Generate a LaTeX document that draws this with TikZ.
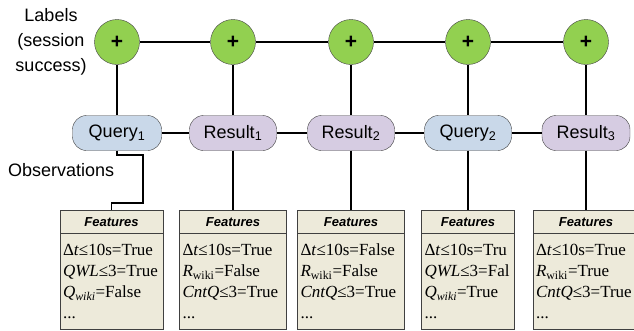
\documentclass[tikz,border=0pt]{standalone}
\usepackage{fontspec}
\setmainfont{Liberation Serif}
\setsansfont{Liberation Sans}

\definecolor{labelgreen}{HTML}{92D050}
\definecolor{queryblue}{HTML}{C9D8E9}
\definecolor{resultpurple}{HTML}{D6CCE2}
\definecolor{featurebeige}{HTML}{EDEADA}
\definecolor{edgegray}{HTML}{404040}

\tikzset{
    label node/.style = {circle, draw = edgegray, fill = labelgreen,
        minimum size = 45pt, inner sep = 0pt,
        font = \sffamily\bfseries\fontsize{21}{21}\selectfont},
    obs node/.style = {rectangle, rounded corners = 14pt, draw = edgegray,
        minimum height = 35pt, inner sep = 0pt,
        font = \sffamily\fontsize{18}{18}\selectfont},
    query node/.style = {obs node, fill = queryblue, minimum width = 89pt},
    result node/.style = {obs node, fill = resultpurple, minimum width = 87pt},
    feature head/.style = {rectangle, draw = edgegray, fill = featurebeige,
        anchor = north, minimum height = 23pt, inner sep = 0pt,
        font = \sffamily\bfseries\itshape\fontsize{13}{13}\selectfont},
    feature body/.style = {rectangle, draw = edgegray, fill = featurebeige,
        anchor = north, minimum height = 96pt, inner xsep = 3pt, inner ysep = 0pt,
        align = left, font = \rmfamily\fontsize{17}{21}\selectfont},
    link/.style = {line width = 1.3pt, black}
}

\begin{document}
\begin{tikzpicture}[x = 1pt, y = -1pt]

        \useasboundingbox (0, 0) rectangle (634, 330);

        % Side texts.
        \node[align = center, font = \sffamily\fontsize{18}{25}\selectfont]
            (labtext) at (51, 42) {Labels\\(session\\success)};
        \node[anchor = west, inner sep = 0pt, font = \sffamily\fontsize{18}{18}\selectfont]
            (obstext) at (8, 170) {Observations};

        % Labels (session success).
        \node[label node] (lab1) at (117, 42) {+};
        \node[label node] (lab2) at (233, 42) {+};
        \node[label node] (lab3) at (351, 42) {+};
        \node[label node] (lab4) at (468, 42) {+};
        \node[label node] (lab5) at (586, 42) {+};

        % Observations.
        \node[query node] (q1) at (117, 133) {Query\textsubscript{1}};
        \node[result node] (r1) at (233, 133) {Result\textsubscript{1}};
        \node[result node] (r2) at (351, 133) {Result\textsubscript{2}};
        \node[query node, minimum width = 87pt] (q2) at (468, 133) {Query\textsubscript{2}};
        \node[result node, minimum width = 88pt] (r3) at (586, 133) {Result\textsubscript{3}};

        % Feature boxes.
        \node[feature head, minimum width = 103pt] (f1h) at (111.5, 210) {Features};
        \node[feature body, minimum width = 103pt, text width = 97pt] (f1b) at (f1h.south)
            {Δ\textit{t}≤10s=True\\\textit{QWL}≤3=True\\\textit{Q}\textsubscript{\textit{wiki}}=False\\...};
        \node[feature head, minimum width = 107pt] (f2h) at (233, 210) {Features};
        \node[feature body, minimum width = 107pt, text width = 101pt] (f2b) at (f2h.south)
            {Δ\textit{t}≤10s=True\\\textit{R}\textsubscript{wiki}=False\\\textit{CntQ}≤3=True\\...};
        \node[feature head, minimum width = 107pt] (f3h) at (351, 210) {Features};
        \node[feature body, minimum width = 107pt, text width = 101pt] (f3b) at (f3h.south)
            {Δ\textit{t}≤10s=False\\\textit{R}\textsubscript{wiki}=False\\\textit{CntQ}≤3=True\\...};
        \node[feature head, minimum width = 93pt] (f4h) at (468, 210) {Features};
        \node[feature body, minimum width = 93pt, text width = 87pt] (f4b) at (f4h.south)
            {Δ\textit{t}≤10s=Tru\\\textit{QWL}≤3=Fal\\\textit{Q}\textsubscript{\textit{wiki}}=True\\...};
        \node[feature head, minimum width = 106pt] (f5h) at (586, 210) {Features};
        \node[feature body, minimum width = 106pt, text width = 100pt] (f5b) at (f5h.south)
            {Δ\textit{t}≤10s=True\\\textit{R}\textsubscript{wiki}=True\\\textit{CntQ}≤3=True\\...};

        % Chain of labels and chain of observations.
        \draw[link] (lab1) -- (lab2);
        \draw[link] (lab2) -- (lab3);
        \draw[link] (lab3) -- (lab4);
        \draw[link] (lab4) -- (lab5);
        \draw[link] (q1) -- (r1);
        \draw[link] (r1) -- (r2);
        \draw[link] (r2) -- (q2);
        \draw[link] (q2) -- (r3);

        % Label to observation.
        \draw[link] (lab1) -- (q1);
        \draw[link] (lab2) -- (r1);
        \draw[link] (lab3) -- (r2);
        \draw[link] (lab4) -- (q2);
        \draw[link] (lab5) -- (r3);

        % Observation to its features.
        \draw[link] (q1.south) |- (143, 155) |- ([yshift = 7pt]f1h.north) -- (f1h.north);
        \draw[link] (r1) -- (f2h);
        \draw[link] (r2) -- (f3h);
        \draw[link] (q2) -- (f4h);
        \draw[link] (r3) -- (f5h);
    \end{tikzpicture}
\end{document}
